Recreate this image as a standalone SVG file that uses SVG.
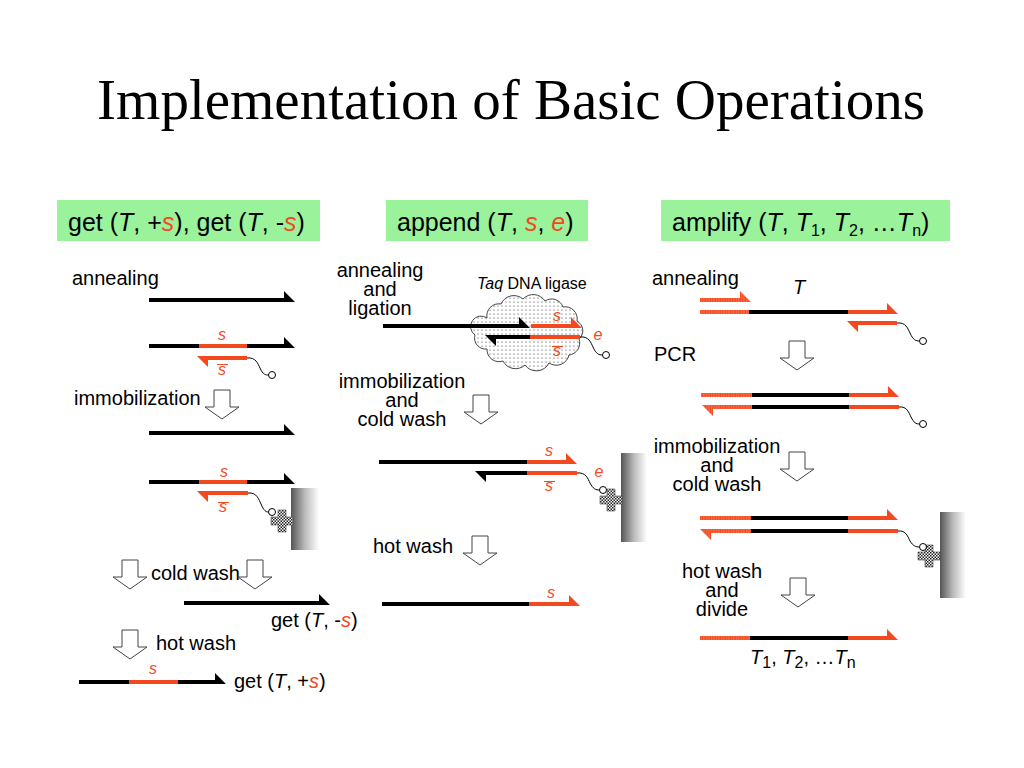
<svg xmlns="http://www.w3.org/2000/svg" width="1024" height="768" viewBox="0 0 1024 768">
<style>
text{font-family:"Liberation Sans",Arial,sans-serif;fill:#000}
.title{font-family:"Liberation Serif","Times New Roman",serif;font-size:57px}
.hdr{font-size:25px}
.b{font-size:20px}
.lbl{font-size:16px;font-style:italic;fill:#F24A1E}
.it{font-style:italic}
.rs{font-style:italic;fill:#F24A1E}
.sub{font-size:16px;font-style:normal}
.box{fill:#9AF29A}
.k{fill:#000}
.r{fill:#F24A1E}
.d{fill:url(#dots)}
.ovl{stroke:#F24A1E;stroke-width:1}
.wire{fill:none;stroke:#000;stroke-width:1}
.bead{fill:#fff;stroke:#000;stroke-width:1}
.cross{fill:url(#chk);stroke:#444;stroke-width:0.6}
.surf{fill:url(#gsurf)}
.harrow{fill:#fff;stroke:#444;stroke-width:1}
.cloud{fill:url(#cdots);stroke:#444;stroke-width:1}
</style>
<defs>
<pattern id="dots" width="2.5" height="2" patternUnits="userSpaceOnUse"><rect width="2.5" height="2" fill="#F24A1E"/><rect x="1" y="0.5" width="1" height="1" fill="#FF9F88"/></pattern>
<pattern id="chk" width="3" height="3" patternUnits="userSpaceOnUse"><rect width="3" height="3" fill="#fff"/><rect width="1.5" height="1.5" fill="#222"/><rect x="1.5" y="1.5" width="1.5" height="1.5" fill="#222"/></pattern>
<pattern id="cdots" width="4" height="4" patternUnits="userSpaceOnUse"><rect width="4" height="4" fill="#fff"/><circle cx="2" cy="2" r="0.6" fill="#333"/></pattern>
<linearGradient id="gsurf" x1="0" y1="0" x2="1" y2="0"><stop offset="0" stop-color="#555"/><stop offset="0.5" stop-color="#bbb"/><stop offset="1" stop-color="#fff"/></linearGradient>
<path id="ha" d="M-8,0 H8 V17 H17 L0,29 L-17,17 H-8 Z"/>
</defs>
<rect width="1024" height="768" fill="#fff"/>

<g id="title"><text class="title" x="511" y="119" text-anchor="middle">Implementation of Basic Operations</text></g>

<g id="hdr-get"><rect class="box" x="57" y="200" width="263" height="41"/><text class="hdr" x="68" y="231">get (<tspan class="it">T</tspan>, +<tspan class="rs">s</tspan>), get (<tspan class="it">T</tspan>, -<tspan class="rs">s</tspan>)</text></g>
<g id="hdr-append"><rect class="box" x="386" y="200" width="202" height="41"/><text class="hdr" x="397" y="231">append (<tspan class="it">T</tspan>, <tspan class="rs">s</tspan>, <tspan class="rs">e</tspan>)</text></g>
<g id="hdr-amplify"><rect class="box" x="661" y="200" width="289" height="41"/><text class="hdr" x="672" y="231">amplify (<tspan class="it">T</tspan>, <tspan class="it">T</tspan><tspan class="sub" dy="5">1</tspan><tspan dy="-5">, </tspan><tspan class="it">T</tspan><tspan class="sub" dy="5">2</tspan><tspan dy="-5">, …</tspan><tspan class="it">T</tspan><tspan class="sub" dy="5">n</tspan><tspan dy="-5">)</tspan></text></g>

<!-- LEFT PANEL -->
<g id="get-panel">
<text class="b" x="72" y="285">annealing</text>
<path class="k" d="M149,298 H284 V291 L295,302 H149 Z"/>
<g id="get-duplex1">
<rect class="k" x="149" y="344" width="50" height="4"/><rect class="r" x="199" y="344" width="48" height="4"/>
<path class="k" d="M247,344 H284 V337 L295,348 H247 Z"/>
<text class="lbl" x="222" y="340" text-anchor="middle">s</text>
<path class="r" d="M197,356 H247 V360 H208 V367 Z"/>
<text class="lbl" x="222" y="375" text-anchor="middle">s</text><line class="ovl" x1="217" y1="364.5" x2="228" y2="364.5"/>
<path class="wire" d="M247,358 C256,357 258,364 260,368 C263,375 266,375 268.5,375"/>
<circle class="bead" cx="272" cy="375" r="3.5"/>
</g>
<text class="b" x="74" y="405">immobilization</text>
<path class="k" d="M149,431 H284 V424 L295,435 H149 Z"/>
<g id="get-duplex2">
<rect class="k" x="149" y="480" width="50" height="4"/><rect class="r" x="199" y="480" width="48" height="4"/>
<path class="k" d="M247,480 H284 V473 L295,484 H247 Z"/>
<text class="lbl" x="224" y="477" text-anchor="middle">s</text>
<path class="r" d="M197,491 H248 V495 H208 V502 Z"/>
<text class="lbl" x="223" y="512" text-anchor="middle">s</text><line class="ovl" x1="218" y1="502.5" x2="229" y2="502.5"/>
<rect class="surf" x="291" y="488" width="28" height="62"/>
<path class="wire" d="M248,493 C257,492 259,500 261,504 C264,511 266,512 268.5,512"/>
<path class="cross" d="M278,510 H286 V517 H293 V525 H286 V532 H278 V525 H271 V517 H278 Z"/>
<circle class="bead" cx="272" cy="512" r="3.5"/>
</g>
<text class="b" x="151" y="580">cold wash</text>
<path class="k" d="M184,601 H319 V594 L330,605 H184 Z"/>
<text class="b" x="271" y="627">get (<tspan class="it">T</tspan>, -<tspan class="rs">s</tspan>)</text>
<text class="b" x="156" y="650">hot wash</text>
<rect class="k" x="79" y="680" width="50" height="4"/><rect class="r" x="129" y="680" width="49" height="4"/>
<path class="k" d="M178,680 H215 V673 L226,684 H178 Z"/>
<text class="lbl" x="153" y="674" text-anchor="middle">s</text>
<text class="b" x="234" y="688">get (<tspan class="it">T</tspan>, +<tspan class="rs">s</tspan>)</text>
</g>

<!-- MIDDLE PANEL -->
<g id="append-panel">
<text class="b" text-anchor="middle"><tspan x="380" y="277">annealing</tspan><tspan x="380" y="296">and</tspan><tspan x="380" y="315">ligation</tspan></text>
<text x="477" y="289" style="font-size:16px"><tspan class="it">Taq</tspan> DNA ligase</text>
<path class="cloud" d="M487,318 a12,12 0 0 1 14,-14 a14,14 0 0 1 22,-5 a14,14 0 0 1 22,2 a12,12 0 0 1 18,6 a12,12 0 0 1 14,14 a11,11 0 0 1 2,18 a12,12 0 0 1 -10,16 a13,13 0 0 1 -20,8 a14,14 0 0 1 -24,2 a14,14 0 0 1 -22,-4 a12,12 0 0 1 -16,-12 a11,11 0 0 1 -12,-14 a10,10 0 0 1 12,-17 Z"/>
<path class="k" d="M383,324 H519 V317 L530,328 H383 Z"/>
<path class="r" d="M531,324 H571 V317 L582,328 H531 Z"/>
<text class="lbl" x="557" y="321" text-anchor="middle">s</text>
<path class="k" d="M485,335 H530 V339 H496 V346 Z"/>
<rect class="r" x="530" y="335" width="50" height="4"/>
<text class="lbl" x="557" y="356" text-anchor="middle">s</text><line class="ovl" x1="552" y1="346.5" x2="563" y2="346.5"/>
<text class="lbl" x="598" y="340" text-anchor="middle">e</text>
<path class="wire" d="M580,337 C589,336 591,343 593,347 C596,354 599,355 602.5,355"/>
<circle class="bead" cx="606" cy="355" r="3.5"/>
<text class="b" text-anchor="middle"><tspan x="402" y="388">immobilization</tspan><tspan x="402" y="407">and</tspan><tspan x="402" y="426">cold wash</tspan></text>
<g id="append-duplex">
<rect class="k" x="379" y="460" width="148" height="4"/>
<path class="r" d="M527,460 H566 V453 L577,464 H527 Z"/>
<text class="lbl" x="549" y="456" text-anchor="middle">s</text>
<path class="k" d="M475,471 H527 V475 H486 V482 Z"/>
<rect class="r" x="527" y="471" width="50" height="4"/>
<text class="lbl" x="549" y="491" text-anchor="middle">s</text><line class="ovl" x1="544" y1="481.5" x2="555" y2="481.5"/>
<text class="lbl" x="599" y="477" text-anchor="middle">e</text>
<rect class="surf" x="621" y="453" width="26" height="89"/>
<path class="wire" d="M577,473 C586,472 588,479 590,483 C593,489 596,490 599.5,490"/>
<path class="cross" d="M607,489 H615 V496 H622 V504 H615 V511 H607 V504 H600 V496 H607 Z"/>
<circle class="bead" cx="603" cy="490" r="3.5"/>
</g>
<text class="b" x="373" y="553">hot wash</text>
<rect class="k" x="382" y="602" width="147" height="4"/>
<path class="r" d="M529,602 H569 V595 L580,606 H529 Z"/>
<text class="lbl" x="551" y="598" text-anchor="middle">s</text>
</g>

<!-- RIGHT PANEL -->
<g id="amplify-panel">
<text class="b" x="652" y="285">annealing</text>
<text class="b it" x="793" y="294">T</text>
<path class="d" d="M700,298 H740 V291 L751,302 H700 Z"/>
<rect class="d" x="700" y="310" width="49" height="4"/><rect class="k" x="749" y="310" width="99" height="4"/>
<path class="r" d="M848,310 H887 V303 L898,314 H848 Z"/>
<path class="r" d="M847,321 H897 V325 H858 V332 Z"/>
<path class="wire" d="M897,323 C906,322 908,329 910,333 C913,340 916,341 919.5,341"/>
<circle class="bead" cx="923" cy="341" r="3.5"/>
<text class="b" x="654" y="361">PCR</text>
<g id="pcr-duplex">
<rect class="d" x="701" y="393" width="51" height="4"/><rect class="k" x="752" y="393" width="97" height="4"/>
<path class="r" d="M849,393 H888 V386 L899,397 H849 Z"/>
<path class="d" d="M702,405 H752 V409 H713 V416 Z"/>
<rect class="k" x="752" y="405" width="97" height="4"/><rect class="r" x="849" y="405" width="50" height="4"/>
<path class="wire" d="M899,407 C907,406 909,413 911,417 C914,423 916,424 919.5,424"/>
<circle class="bead" cx="923" cy="424" r="3.5"/>
</g>
<text class="b" text-anchor="middle"><tspan x="717" y="453">immobilization</tspan><tspan x="717" y="472">and</tspan><tspan x="717" y="491">cold wash</tspan></text>
<g id="amp-duplex">
<rect class="d" x="700" y="516" width="51" height="4"/><rect class="k" x="751" y="516" width="97" height="4"/>
<path class="r" d="M848,516 H887 V509 L898,520 H848 Z"/>
<path class="d" d="M700,529 H751 V533 H711 V540 Z"/>
<rect class="k" x="751" y="529" width="97" height="4"/><rect class="r" x="848" y="529" width="50" height="4"/>
<rect class="surf" x="940" y="512" width="26" height="86"/>
<path class="wire" d="M898,531 C906,530 908,537 910,541 C913,546 916,547 919.5,547"/>
<path class="cross" d="M925,545 H933 V552 H940 V560 H933 V567 H925 V560 H918 V552 H925 Z"/>
<circle class="bead" cx="923" cy="547" r="3.5"/>
</g>
<text class="b" text-anchor="middle"><tspan x="722" y="578">hot wash</tspan><tspan x="722" y="597">and</tspan><tspan x="722" y="616">divide</tspan></text>
<rect class="d" x="700" y="636" width="50" height="4"/><rect class="k" x="750" y="636" width="98" height="4"/>
<path class="r" d="M848,636 H887 V629 L898,640 H848 Z"/>
<text class="b" x="750" y="664"><tspan class="it">T</tspan><tspan class="sub" dy="4">1</tspan><tspan dy="-4">, </tspan><tspan class="it">T</tspan><tspan class="sub" dy="4">2</tspan><tspan dy="-4">, …</tspan><tspan class="it">T</tspan><tspan class="sub" dy="4">n</tspan></text>
</g>

<g id="connectors">
<use href="#ha" class="harrow" x="222" y="390"/>
<use href="#ha" class="harrow" x="130" y="560"/>
<use href="#ha" class="harrow" x="255" y="560"/>
<use href="#ha" class="harrow" x="130" y="630"/>
<use href="#ha" class="harrow" x="481" y="395"/>
<use href="#ha" class="harrow" x="480" y="536"/>
<use href="#ha" class="harrow" x="797" y="341"/>
<use href="#ha" class="harrow" x="797" y="452"/>
<use href="#ha" class="harrow" x="798" y="578"/>
</g>
</svg>
